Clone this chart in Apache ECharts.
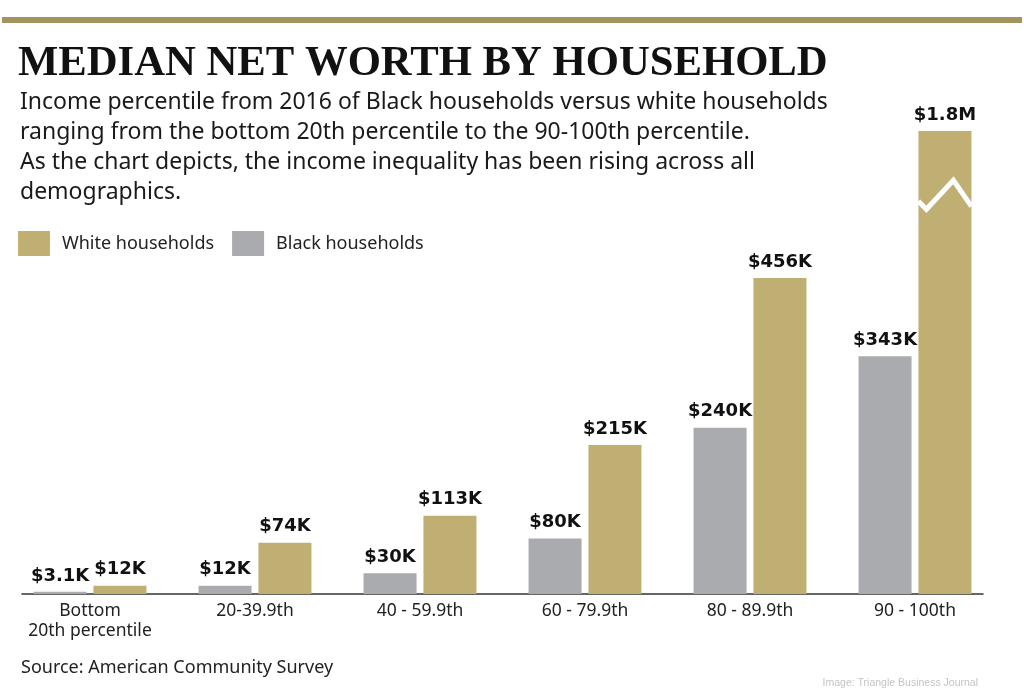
<!DOCTYPE html>
<html>
<head>
<meta charset="utf-8">
<script src="https://cdn.jsdelivr.net/npm/echarts@6/dist/echarts.min.js"></script>
<style>
html,body{margin:0;padding:0;background:#fff;}
#chart{width:1024px;height:689px;}
</style>
</head>
<body>
<div id="chart"></div>
<script>
// ---- data (values in thousands of dollars) ----
const categories = ['Bottom\n20th percentile', '20-39.9th', '40 - 59.9th', '60 - 79.9th', '80 - 89.9th', '90 - 100th'];
const blackValues = [3.1, 12, 30, 80, 240, 343];
const whiteValues = [12, 74, 113, 215, 456, 1800];
const seriesNames = ['Black households', 'White households'];
const legendOrder = ['White households', 'Black households'];
const axisCapK = 668;          // value where the tallest bar is cut off (broken bar)
const breakMarkK = [555, 597]; // break zigzag low / high (in K)

const titleText = 'MEDIAN NET WORTH BY HOUSEHOLD';
const subtitleText = 'Income percentile from 2016 of Black households versus white households\nranging from the bottom 20th percentile to the 90-100th percentile.\nAs the chart depicts, the income inequality has been rising across all\ndemographics.';
const sourceText = 'Source: American Community Survey';
const creditText = 'Image: Triangle Business Journal';

const GOLD = '#c0af72';
const GRAY = '#aaabaf';

function fmt(v) {
  if (v >= 1000) return '$' + (v / 1000) + 'M';
  return '$' + v + 'K';
}

const chart = echarts.init(document.getElementById('chart'), null, {renderer: 'canvas'});

const labelStyle = {
  show: true, position: 'top', distance: 7,
  fontFamily: '"DejaVu Sans", sans-serif', fontWeight: 'bold', fontSize: 18, color: '#111',
  formatter: p => fmt(p.value)
};

const topRule = {type: 'rect', left: 2, top: 17, shape: {width: 1020, height: 6}, style: {fill: '#a3935f'}, silent: true};

const option = {
  backgroundColor: '#fff',
  animation: false,
  title: [
    {text: titleText, left: 13, top: 37.5,
     textStyle: {fontFamily: '"Liberation Serif", "DejaVu Serif", serif', fontWeight: 'bold', fontSize: 42.7, color: '#111', lineHeight: 43}},
    {text: subtitleText, left: 15, top: 82,
     textStyle: {fontFamily: '"Noto Sans", sans-serif', fontWeight: 'normal', fontSize: 23, color: '#1a1a1a', lineHeight: 30}},
    {text: sourceText, left: 16, top: 652,
     textStyle: {fontFamily: '"Noto Sans", sans-serif', fontWeight: 'normal', fontSize: 18, color: '#222', lineHeight: 22}},
    {text: creditText, right: 41, top: 672,
     textStyle: {fontFamily: '"Liberation Sans", Arial, sans-serif', fontWeight: 'normal', fontSize: 10.5, color: '#c4c4c4', lineHeight: 12}}
  ],
  legend: {
    data: legendOrder, left: 18, top: 231, padding: 0,
    itemWidth: 32, itemHeight: 25, itemGap: 18, icon: 'rect',
    textStyle: {fontFamily: '"Noto Sans", sans-serif', fontSize: 18, color: '#222', padding: [0, 0, 0, 7]}
  },
  grid: [
    {left: 7.5, right: 26.5, top: 131, bottom: 95, containLabel: false},
    {left: 22, right: 41, top: 131, bottom: 95, containLabel: false}
  ],
  xAxis: [
    {type: 'category', gridIndex: 0, data: categories,
     axisLine: {show: false}, axisTick: {show: false},
     axisLabel: {margin: 7, interval: 0, fontFamily: '"Noto Sans", sans-serif', fontSize: 17.5, color: '#222', lineHeight: 20}},
    {type: 'value', gridIndex: 1, min: 0, max: 1, position: 'bottom',
     axisLine: {show: true, onZero: false, lineStyle: {color: '#333', width: 1.5}},
     axisTick: {show: false}, axisLabel: {show: false}, splitLine: {show: false}}
  ],
  yAxis: [
    {type: 'value', gridIndex: 0, min: 0, max: axisCapK, show: false, splitLine: {show: false}},
    {type: 'value', gridIndex: 1, min: 0, max: 1, show: false, splitLine: {show: false}}
  ],
  series: [
    {name: seriesNames[0], type: 'bar', xAxisIndex: 0, yAxisIndex: 0, data: blackValues,
     barWidth: 53, barGap: '13%', clip: true, itemStyle: {color: GRAY}, label: labelStyle},
    {name: seriesNames[1], type: 'bar', xAxisIndex: 0, yAxisIndex: 0, data: whiteValues,
     barWidth: 53, barGap: '13%', clip: true, itemStyle: {color: GOLD}, label: labelStyle}
  ],
  graphic: [topRule]
};

chart.setOption(option);

// Break marker on the capped (tallest) bar, computed from the bar's own layout
(function () {
  const series = chart.getModel().getSeriesByIndex(1);
  const data = series.getData();
  let idx = 0;
  whiteValues.forEach((v, i) => { if (v > whiteValues[idx]) idx = i; });
  if (whiteValues[idx] <= axisCapK) return;
  const lay = data.getItemLayout(idx);
  const x0 = lay.x, w = lay.width;
  const yLow = chart.convertToPixel({yAxisIndex: 0}, breakMarkK[0]);
  const yHigh = chart.convertToPixel({yAxisIndex: 0}, breakMarkK[1]);
  const pts = [
    [x0, yLow - 8],
    [x0 + w * 0.15, yLow],
    [x0 + w * 0.66, yHigh],
    [x0 + w, yLow - 3]
  ];
  chart.setOption({
    graphic: [
      topRule,
      {type: 'polyline', shape: {points: pts}, style: {stroke: '#fff', lineWidth: 5, fill: null, lineJoin: 'miter'}, silent: true, z: 100}
    ]
  });
})();
</script>
</body>
</html>
